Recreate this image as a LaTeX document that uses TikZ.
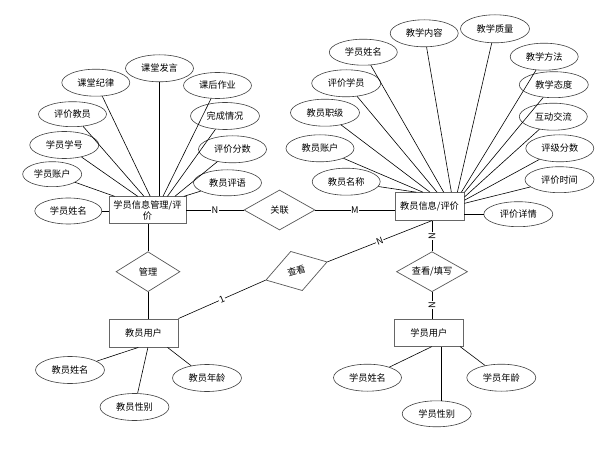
\documentclass[tikz,border=0pt]{standalone}
\usepackage{fontspec}
\setmainfont{Noto Sans CJK SC}
\usetikzlibrary{shapes.geometric,calc}
\newcommand{\erfont}{\fontsize{9.2}{11}\selectfont}
\begin{document}
\begin{tikzpicture}[x=1pt,y=-1pt,
  attr/.style={ellipse,draw=black!75,line width=0.6pt,minimum width=68pt,minimum height=26pt,inner sep=0pt,font=\erfont},
  ent/.style={rectangle,draw=black!60,line width=0.9pt,inner sep=0pt,font=\erfont,align=center},
  rel/.style={diamond,draw=black!65,line width=0.7pt,inner sep=0pt,aspect=1.7,font=\erfont},
  conn/.style={draw=black,line width=0.6pt},
  card/.style={fill=white,inner sep=0.6pt,font=\erfont}
]
\fill[white] (0,0) rectangle (602,454);
\useasboundingbox (0,0) rectangle (602,454);

% entities
\node[ent,minimum width=77pt,minimum height=27pt] (A) at (147.5,210.3) {学员信息管理/评\\价};
\node[ent,minimum width=69pt,minimum height=27.5pt] (R) at (429.5,206.4) {教员信息/评价};
\node[ent,minimum width=69pt,minimum height=28pt] (T) at (143.5,333) {教员用户};
\node[ent,minimum width=69pt,minimum height=27pt] (U) at (428.8,332.7) {学员用户};

% relationships
\node[rel,minimum width=71pt,minimum height=40pt] (G) at (279.5,210) {关联};
\node[rel,minimum width=64pt,minimum height=40pt] (M) at (148,271.7) {管理};
\node[rel,minimum width=71pt,minimum height=40pt] (X) at (432,271.7) {查看/填写};
\node[rel,minimum width=64pt,minimum height=41pt,rotate=16.5] (C) at (296.5,271) {查看};

% left attributes
\node[attr,minimum width=67pt] (a1) at (68.3,211) {学员姓名};
\node[attr,minimum width=59pt,minimum height=25pt] (a2) at (52.2,174.2) {学员账户};
\node[attr,minimum width=69pt,minimum height=27pt] (a3) at (64.3,145) {学员学号};
\node[attr,minimum height=25pt] (a4) at (72.5,114.2) {评价教员};
\node[attr,minimum height=27pt] (a5) at (95.8,82.7) {课堂纪律};
\node[attr,minimum height=27pt] (a6) at (159.5,68.3) {课堂发言};
\node[attr] (a7) at (217.5,85.5) {课后作业};
\node[attr,minimum width=69pt,minimum height=27pt] (a8) at (225,116) {完成情况};
\node[attr,minimum height=27pt] (a9) at (232.5,149.3) {评价分数};
\node[attr] (a10) at (227.5,182.8) {教员评语};

% right attributes
\node[attr,minimum height=27pt] (b1) at (346.2,181.7) {教员名称};
\node[attr,minimum height=27pt] (b2) at (320,148.3) {教员账户};
\node[attr,minimum width=69pt,minimum height=27pt] (b3) at (325,112.7) {教员职级};
\node[attr,minimum width=69pt,minimum height=27pt] (b4) at (346.2,83.3) {评价学员};
\node[attr] (b5) at (363.3,52.2) {学员姓名};
\node[attr,minimum height=27pt] (b6) at (424.2,33.3) {教学内容};
\node[attr,minimum width=69pt,minimum height=28pt] (b7) at (495,28.8) {教学质量};
\node[attr,minimum height=27pt] (b8) at (544.2,56.7) {教学方法};
\node[attr,minimum width=69pt] (b9) at (553.8,84.7) {教学态度};
\node[attr,minimum height=27pt] (b10) at (553.3,116.7) {互动交流};
\node[attr,minimum height=27pt] (b11) at (559.8,148.3) {评级分数};
\node[attr,minimum width=69pt] (b12) at (559.5,179.7) {评价时间};
\node[attr,minimum width=69pt,minimum height=25pt] (b13) at (518.3,214.2) {评价详情};

% bottom attributes
\node[attr,minimum width=69pt,minimum height=27pt] (c1) at (70,370) {教员姓名};
\node[attr,minimum width=69pt,minimum height=27pt] (c2) at (134.5,407) {教员性别};
\node[attr,minimum width=69pt,minimum height=27pt] (c3) at (207,378) {教员年龄};
\node[attr,minimum height=27pt] (d1) at (367.5,377.7) {学员姓名};
\node[attr,minimum width=69pt] (d2) at (436.7,413.8) {学员性别};
\node[attr,minimum width=69pt,minimum height=27pt] (d3) at (501.3,377.7) {学员年龄};

% left attribute connectors
\draw[conn] (a1) -- (a1 -| A.west);
\draw[conn] (a2) -- (A.157.4);
\draw[conn] (a3) -- (A.125.1);
\draw[conn] (a4) -- (A.104.5);
\draw[conn] (a5) -- (A.79.5);
\draw[conn] (a6.south) -- (a6.south |- A.north);
\draw[conn] (a7) -- (A.42.4);
\draw[conn] (a8) -- (A.35.1);
\draw[conn] (a9) -- (A.27.6);
\draw[conn] (a10) -- (A.21.5);

% right attribute connectors
\draw[conn] (b1) -- (R.133);
\draw[conn] (b2) -- (R.115);
\draw[conn] (b3) -- (R.88);
\draw[conn] (b4) -- (R.62.4);
\draw[conn] (b5) -- (R.45.5);
\draw[conn] (b6) -- (R.33.8);
\draw[conn] (b7) -- (R.27.7);
\draw[conn] (b8) -- (R.24.3);
\draw[conn] (b9) -- (R.22.5);
\draw[conn] (b10) -- (R.15.9);
\draw[conn] (b11) -- (R.10.7);
\draw[conn] (b12) -- (R.5.8);
\draw[conn] (b13) -- (b13 -| R.east);

% bottom attribute connectors
\draw[conn] (T.250) -- (c1);
\draw[conn] (T.287) -- (c2);
\draw[conn] (T.329) -- (c3);
\draw[conn] (U.282) -- (d1);
\coordinate (d2t) at ($(d2.north)+(5,0)$);
\draw[conn] (d2t) -- (d2t |- U.south);
\draw[conn] (U.336) -- (d3);

% relationship connectors
\draw[conn] (G.west -| A.east) -- node[card]{N} (G.west);
\draw[conn] (G.east) -- node[card]{M} (G.east -| R.west);
\draw[conn] (M.north) -- (M.north |- A.south);
\draw[conn] (M.south) -- (M.south |- T.north);
\draw[conn] (T.north east) -- node[card,sloped]{1} (C.west);
\coordinate (rb) at (X.north |- R.south);
\draw[conn] (C.east) -- node[card,sloped]{N} (rb);
\draw[conn] (X.north) -- node[card,rotate=90]{N} (rb);
\draw[conn] (X.south) -- node[card,rotate=90]{N} (X.south |- U.north);
\end{tikzpicture}
\end{document}
